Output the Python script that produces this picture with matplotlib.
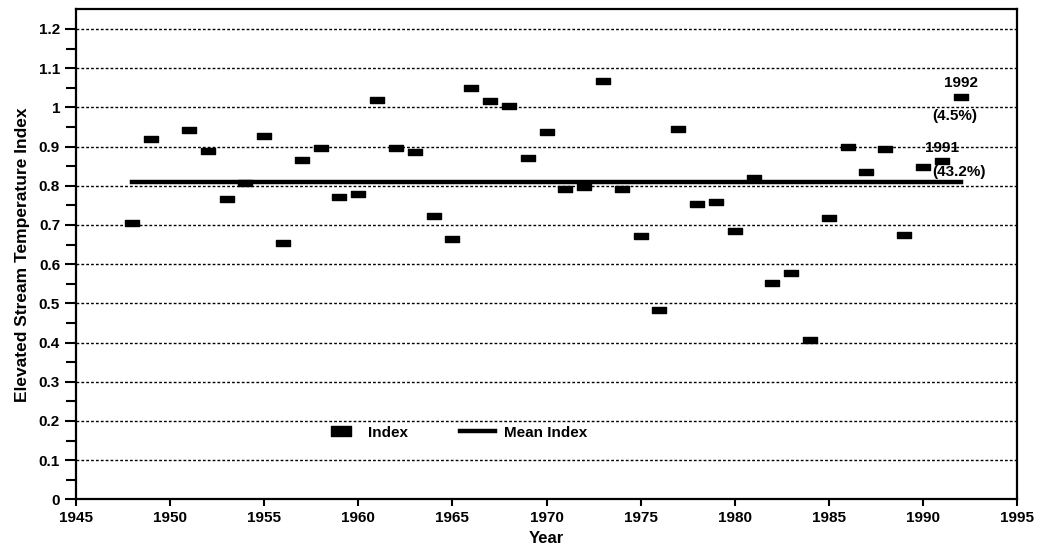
import numpy as np
from matplotlib import pyplot as plt
from matplotlib.path import Path

# Data
years = [1948, 1949, 1951, 1952, 1953, 1954, 1955, 1956, 1957, 1958, 1959,
         1960, 1961, 1962, 1963, 1964, 1965, 1966, 1967, 1968, 1969, 1970,
         1971, 1972, 1973, 1974, 1975, 1976, 1977, 1978, 1979, 1980, 1981,
         1982, 1983, 1984, 1985, 1986, 1987, 1988, 1989, 1990, 1991, 1992]
index = [0.704, 0.919, 0.943, 0.888, 0.765, 0.806, 0.928, 0.655, 0.867, 0.896,
         0.771, 0.778, 1.020, 0.896, 0.886, 0.723, 0.665, 1.050, 1.017, 1.003,
         0.870, 0.937, 0.791, 0.798, 1.068, 0.791, 0.672, 0.482, 0.945, 0.753,
         0.758, 0.685, 0.819, 0.552, 0.578, 0.407, 0.717, 0.900, 0.836, 0.895,
         0.675, 0.848, 0.862, 1.027]
mean_index = 0.81
mean_span = [1948, 1992]

x_ticks = list(range(1945, 2000, 5))
y_ticks = [round(0.1 * i, 1) for i in range(13)]

plt.rcParams['font.family'] = ['Liberation Sans', 'DejaVu Sans']
plt.rcParams['font.weight'] = 'bold'

# wide flat block marker
bar_marker = Path([(-1, -0.5), (1, -0.5), (1, 0.5), (-1, 0.5), (-1, -0.5)],
                  [Path.MOVETO, Path.LINETO, Path.LINETO, Path.LINETO, Path.CLOSEPOLY])

fig = plt.figure(figsize=(10.41, 5.5), dpi=100)
ax = fig.add_axes([0.073, 0.092, 0.904, 0.891])

# Grid
for yv in y_ticks[1:]:
    ax.axhline(yv, color='black', lw=1.0, ls=(0, (2, 1.5)), zorder=1)

ax.plot(years, index, ls='none', marker=bar_marker, ms=9.5, color='black',
        label='Index', zorder=3)
ax.plot(mean_span, [mean_index, mean_index], '-', color='black', lw=3.2,
        label='Mean Index', zorder=2)

ax.text(1992.0, 1.063, '1992', ha='center', va='center', fontsize=11, fontweight='bold')
ax.text(1991.7, 0.978, '(4.5%)', ha='center', va='center', fontsize=11)
ax.text(1991.0, 0.897, '1991', ha='center', va='center', fontsize=11, fontweight='bold')
ax.text(1990.47, 0.834, '(43.2%)', ha='left', va='center', fontsize=11)

ax.set_xlim(1945, 1995)
ax.set_ylim(0, 1.25)
ax.set_xticks(x_ticks)
ax.set_xticklabels([str(x) for x in x_ticks])
ax.set_yticks(y_ticks)
ax.set_yticklabels(['%g' % y for y in y_ticks])
ax.set_yticks(np.arange(0.05, 1.25, 0.1), minor=True)
ax.tick_params(axis='both', labelsize=11, width=1.5, color='black')
ax.tick_params(axis='y', which='major', length=8)
ax.tick_params(axis='y', which='minor', length=7, width=1.5)
ax.tick_params(axis='x', length=5)
for sp in ax.spines.values():
    sp.set_linewidth(1.6)

ax.set_xlabel('Year', fontsize=12, fontweight='bold', labelpad=4)
ax.set_ylabel('Elevated Stream Temperature Index', fontsize=12.5, fontweight='bold', labelpad=6)

ax.legend(ncol=2, loc='center', bbox_to_anchor=(0.403, 0.136), frameon=False,
          fontsize=11, markerscale=1.5, handlelength=2.3, columnspacing=3.4,
          handletextpad=0.6)

fig.savefig('out.png', dpi=100)
